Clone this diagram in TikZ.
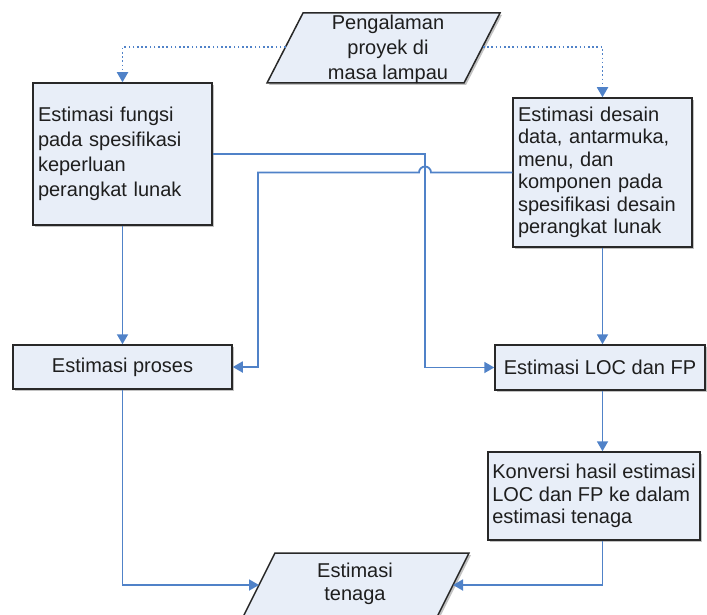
\documentclass[tikz,border=0pt]{standalone}
\usepackage{fontspec}
\setmainfont{Liberation Sans}
\usetikzlibrary{arrows.meta,shadows,calc}
\definecolor{boxfill}{RGB}{232,238,248}
\definecolor{linkblue}{RGB}{80,130,200}
\definecolor{edgegray}{RGB}{40,40,40}
\definecolor{txt}{RGB}{30,30,30}
\begin{document}
\begin{tikzpicture}[x=1pt,y=-1pt,
  shad/.style={drop shadow={shadow xshift=2pt,shadow yshift=-2pt,fill=black!40,opacity=0.6}},
  box/.style={draw=edgegray,line width=1.5pt,fill=boxfill,shad,text=txt,inner sep=5pt},
  para/.style={draw=edgegray,line width=1.5pt,fill=boxfill,shad},
  conn/.style={draw=linkblue,line width=1.8pt,-{Triangle[length=10pt,width=11pt]}},
  dotline/.style={draw=linkblue,line width=1.8pt,dash pattern=on 1.6pt off 2.6pt,-{Triangle[length=10pt,width=11pt]}},
  f25/.style={font=\fontsize{20}{25}\selectfont},
  f22/.style={font=\fontsize{20}{22.5}\selectfont},
]
\useasboundingbox (0,0) rectangle (707,615);

% top parallelogram
\path[para] (303,13) -- (500,13) -- (464,83) -- (267,83) -- cycle;
\node[f25,text=txt,align=center] (pen) at (388,49) {Pengalaman\\proyek di\\masa lampau};
\coordinate (penL) at (285.5,47);
\coordinate (penR) at (483,47);

% boxes
\node[box,f25,minimum width=179pt,minimum height=142pt,text width=169pt,align=left] (fun) at (122.5,154)
  {Estimasi fungsi\\pada spesifikasi\\keperluan\\perangkat lunak};
\node[box,f22,minimum width=179pt,minimum height=149pt,text width=169pt,align=left] (des) at (602.5,172.5)
  {Estimasi desain\\data, antarmuka,\\menu, dan\\komponen pada\\spesifikasi desain\\perangkat lunak};
\node[box,f25,minimum width=219pt,minimum height=44pt] (pro) at (122.5,367) {Estimasi proses};
\node[box,f25,minimum width=210pt,minimum height=45pt] (loc) at (600,367.5) {Estimasi LOC dan FP};
\node[box,f22,minimum width=212pt,minimum height=88pt,inner sep=4pt,align=left] (kon) at (594,496)
  {Konversi hasil estimasi\\LOC dan FP ke dalam\\estimasi tenaga};

% bottom parallelogram
\path[para] (275,553) -- (469,553) -- (434,623) -- (240,623) -- cycle;
\node[f22,text=txt,align=center] (ten) at (355,584) {Estimasi\\tenaga};
\coordinate (tenL) at (259,585);
\coordinate (tenR) at (453,585);

% dotted connectors
\draw[dotline] (penL) -| (fun.north);
\draw[dotline] (penR) -| (des.north);

% connectors
\coordinate (jx) at (425,0);
\coordinate (jx2) at (258,0);
\draw[conn] (fun.south) -- (pro.north);
\draw[conn] (fun.east) -| (jx |- loc.west) -- (loc.west);
\draw[conn] (des.west) -- ([xshift=6pt]jx |- des.west) arc[start angle=0,end angle=-180,radius=6] -- (jx2 |- des.west) |- (pro.east);
\draw[conn] (des.south) -- (des.south |- loc.north);
\draw[conn] (loc.south -| des.south) -- (des.south |- kon.north);
\draw[conn] (kon.south -| des.south) |- (tenR);
\draw[conn] (pro.south) |- (tenL);
\end{tikzpicture}
\end{document}
